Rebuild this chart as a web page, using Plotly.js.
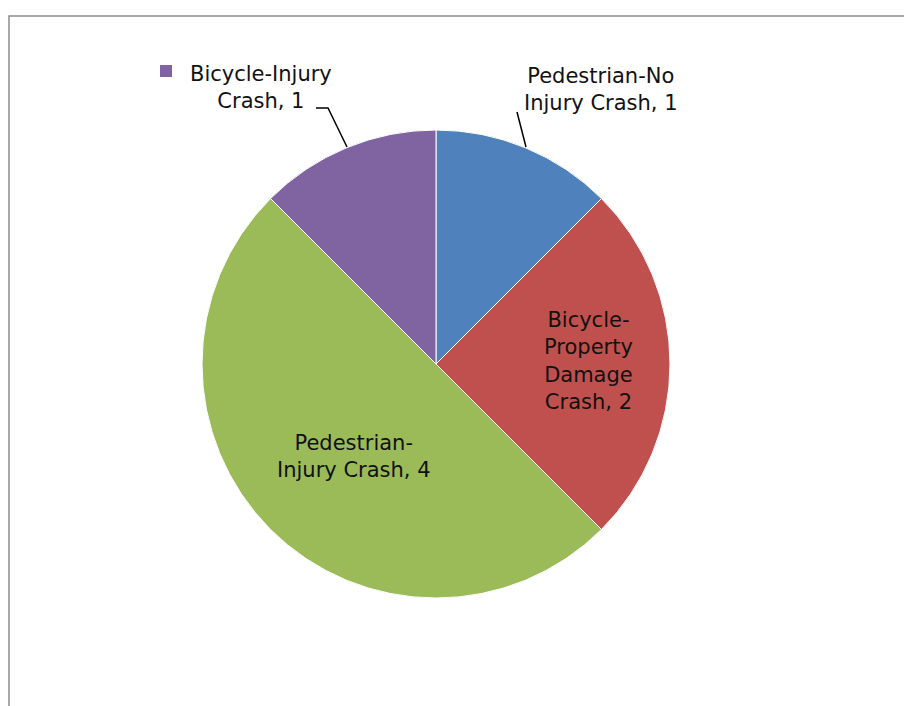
<!DOCTYPE html>
<html>
<head>
<meta charset="utf-8">
<script src="https://cdn.plot.ly/plotly-3.0.1.min.js"></script>
<style>html,body{margin:0;padding:0;background:#fff;}#chart{width:904px;height:706px;}</style>
</head>
<body>
<div id="chart"></div>
<script>
// Data
var categories = ["Pedestrian-No Injury Crash", "Bicycle-Property Damage Crash", "Pedestrian-Injury Crash", "Bicycle-Injury Crash"];
var values = [1, 2, 4, 1];
var colors = ["#4F81BD", "#C0504D", "#9BBB59", "#8064A2"];
// how each label wraps in the picture
var wrappedNames = ["Pedestrian-No<br>Injury Crash", "Bicycle-<br>Property<br>Damage<br>Crash", "Pedestrian-<br>Injury Crash", "Bicycle-Injury<br>Crash"];

var W = 904, H = 706;
function px(x){ return x / W; }
function py(y){ return 1 - y / H; }

// label placement (pixels)
var labelPos = [[601, 89], [588, 361], [354, 456], [261, 87]];

var font = {family: "DejaVu Sans, sans-serif", size: 21, color: "#111"};

var annotations = categories.map(function(c, i){
  return {
    xref: "paper", yref: "paper",
    x: px(labelPos[i][0]), y: py(labelPos[i][1]),
    xanchor: "center", yanchor: "middle",
    text: wrappedNames[i] + ", " + values[i],
    showarrow: false, align: "center", font: font
  };
});

function path(pts){
  return pts.map(function(p, k){ return (k ? "L" : "M") + px(p[0]) + "," + py(p[1]); }).join(" ");
}

var shapes = [
  // chart frame
  {type: "path", xref: "paper", yref: "paper",
   path: "M" + px(9) + "," + py(H + 20) + " L" + px(9) + "," + py(16) + " L" + px(W + 20) + "," + py(16),
   line: {color: "#8c8c8c", width: 1.5}},
  // leader line purple
  {type: "path", xref: "paper", yref: "paper", path: path([[316,108],[328,108],[347,147]]), line: {color: "#000", width: 1.5}},
  // leader line blue
  {type: "path", xref: "paper", yref: "paper", path: path([[517,112],[526,147]]), line: {color: "#000", width: 1.5}},
  // legend key for purple
  {type: "rect", xref: "paper", yref: "paper", x0: px(160), x1: px(172), y0: py(77), y1: py(65),
   fillcolor: colors[3], line: {width: 0}}
];

var trace = {
  type: "pie",
  labels: categories,
  values: values,
  sort: false,
  direction: "clockwise",
  rotation: 0,
  textinfo: "none",
  hoverinfo: "label+value",
  marker: {colors: colors, line: {color: "#ffffff", width: 1}},
  domain: {x: [px(202), px(670)], y: [py(598), py(130)]}
};

var layout = {
  width: W, height: H,
  margin: {l: 0, r: 0, t: 0, b: 0},
  paper_bgcolor: "#ffffff",
  showlegend: false,
  annotations: annotations,
  shapes: shapes
};

Plotly.newPlot("chart", [trace], layout, {displayModeBar: false, staticPlot: true});
</script>
</body>
</html>
